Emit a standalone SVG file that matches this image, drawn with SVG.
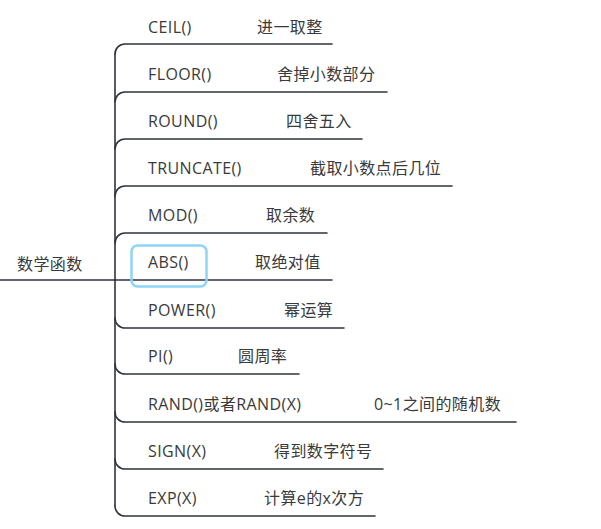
<svg xmlns="http://www.w3.org/2000/svg" width="601" height="529" viewBox="0 0 601 529">
<style>
text{font-family:"Open Sans","Noto Sans CJK SC",sans-serif;font-size:16px;fill:#3a3a3a;letter-spacing:0.4px}
.c{fill:none;stroke:#30333d;stroke-width:1.6;stroke-linecap:round}
</style>
<rect width="601" height="529" fill="#fff"/>
<g id="connectors">
<path class="c" d="M0,280 H115"/>
<path class="c" d="M115,54 V506"/>
<path class="c" d="M115,54 A10,10 0 0 1 125,44 H332"/>
<path class="c" d="M115,102 A10,10 0 0 1 125,92 H387"/>
<path class="c" d="M115,149 A10,10 0 0 1 125,139 H362"/>
<path class="c" d="M115,196 A10,10 0 0 1 125,186 H452"/>
<path class="c" d="M115,243 A10,10 0 0 1 125,233 H327"/>
<path class="c" d="M115,280 H332"/>
<path class="c" d="M115,318 A10,10 0 0 0 125,328 H344"/>
<path class="c" d="M115,364 A10,10 0 0 0 125,374 H299"/>
<path class="c" d="M115,412 A10,10 0 0 0 125,422 H516"/>
<path class="c" d="M115,459 A10,10 0 0 0 125,469 H383"/>
<path class="c" d="M115,506 A10,10 0 0 0 125,516 H375"/>
</g>
<g id="root"><text x="17" y="270">数学函数</text></g>
<g id="n-ceil"><text x="148" y="33">CEIL()</text><text x="257" y="33">进一取整</text></g>
<g id="n-floor"><text x="148" y="80">FLOOR()</text><text x="277" y="80">舍掉小数部分</text></g>
<g id="n-round"><text x="148" y="127">ROUND()</text><text x="286" y="127">四舍五入</text></g>
<g id="n-truncate"><text x="148" y="174">TRUNCATE()</text><text x="310" y="174">截取小数点后几位</text></g>
<g id="n-mod"><text x="148" y="221">MOD()</text><text x="266" y="221">取余数</text></g>
<g id="n-abs"><rect x="131.5" y="245.5" width="75" height="41" rx="6" fill="none" stroke="#8fd5f8" stroke-width="2.5"/><text x="148" y="268">ABS()</text><text x="255" y="268">取绝对值</text></g>
<g id="n-power"><text x="148" y="316">POWER()</text><text x="284" y="316">幂运算</text></g>
<g id="n-pi"><text x="148" y="362">PI()</text><text x="238" y="362">圆周率</text></g>
<g id="n-rand"><text x="148" y="410">RAND()或者RAND(X)</text><text x="374" y="410">0~1之间的随机数</text></g>
<g id="n-sign"><text x="148" y="457">SIGN(X)</text><text x="274" y="457">得到数字符号</text></g>
<g id="n-exp"><text x="148" y="504">EXP(X)</text><text x="264" y="504">计算e的x次方</text></g>
</svg>
